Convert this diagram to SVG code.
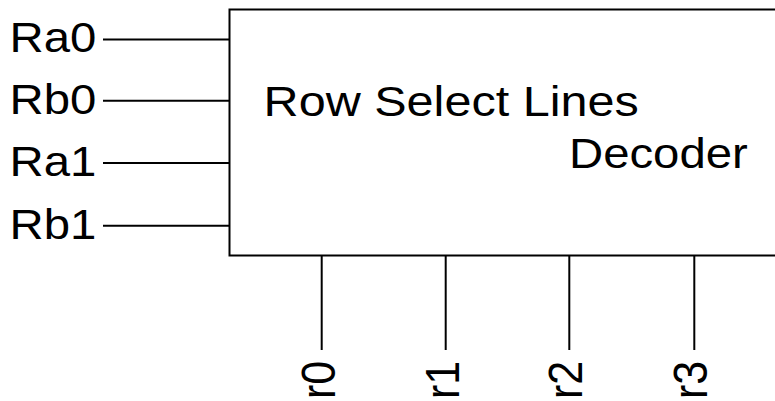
<svg xmlns="http://www.w3.org/2000/svg" width="775" height="401" viewBox="0 0 775 401">
  <style>
    .wire { stroke: #000; stroke-width: 2; fill: none; }
    .box { stroke: #000; stroke-width: 2; fill: #fff; }
    .lbl { font-family: "Liberation Sans", Arial, sans-serif; font-size: 43px; fill: #000; }
  </style>
  <rect width="775" height="401" fill="#fff"/>
  <g id="decoder">
    <rect class="box" x="229.5" y="9.5" width="600" height="246"/>
    <g transform="translate(263.6,116) scale(1.1,1)"><text class="lbl" x="0" y="0" textLength="341" lengthAdjust="spacingAndGlyphs">Row Select Lines</text></g>
    <g transform="translate(569,167.7) scale(1.1,1)"><text class="lbl" x="0" y="0">Decoder</text></g>
  </g>
  <g id="connectors">
    <line class="wire" x1="103" y1="39.5" x2="229.5" y2="39.5"/>
    <line class="wire" x1="103" y1="100.7" x2="229.5" y2="100.7"/>
    <line class="wire" x1="103" y1="163" x2="229.5" y2="163"/>
    <line class="wire" x1="103" y1="225.7" x2="229.5" y2="225.7"/>
    <line class="wire" x1="321.7" y1="256" x2="321.7" y2="350"/>
    <line class="wire" x1="445.7" y1="256" x2="445.7" y2="350"/>
    <line class="wire" x1="569.3" y1="256" x2="569.3" y2="350"/>
    <line class="wire" x1="694.3" y1="256" x2="694.3" y2="350"/>
  </g>
  <g id="in-Ra0" transform="translate(9.6,52.3) scale(1.1,1)"><text class="lbl">Ra0</text></g>
  <g id="in-Rb0" transform="translate(9.6,113.7) scale(1.1,1)"><text class="lbl">Rb0</text></g>
  <g id="in-Ra1" transform="translate(9.6,176) scale(1.1,1)"><text class="lbl">Ra1</text></g>
  <g id="in-Rb1" transform="translate(9.6,238.7) scale(1.1,1)"><text class="lbl">Rb1</text></g>
  <g id="out-r0" transform="translate(334.7,399) scale(1.1,1) rotate(-90)"><text class="lbl">r0</text></g>
  <g id="out-r1" transform="translate(458.7,399) scale(1.1,1) rotate(-90)"><text class="lbl">r1</text></g>
  <g id="out-r2" transform="translate(582.3,399) scale(1.1,1) rotate(-90)"><text class="lbl">r2</text></g>
  <g id="out-r3" transform="translate(707.3,399) scale(1.1,1) rotate(-90)"><text class="lbl">r3</text></g>
</svg>
